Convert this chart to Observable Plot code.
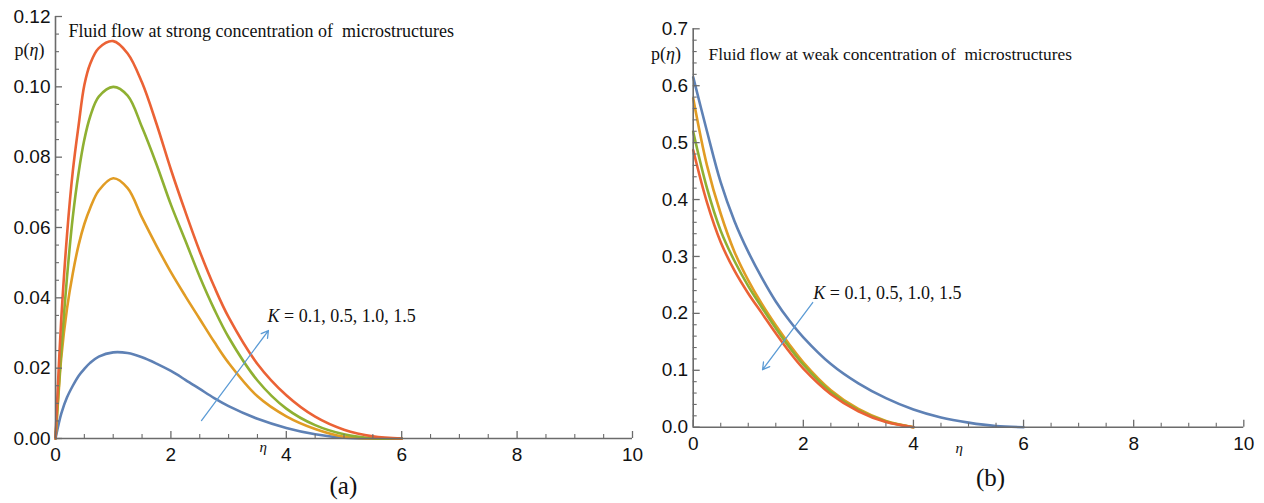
<!DOCTYPE html>
<html><head><meta charset="utf-8">
<script src="https://cdn.jsdelivr.net/npm/d3@7"></script>
<script src="https://cdn.jsdelivr.net/npm/@observablehq/plot@0.6"></script>
<style>
body{margin:0;background:#fff;}
#wrap{position:relative;width:1264px;height:503px;overflow:hidden;background:#fff;}
#wrap svg{position:absolute;top:0;}
</style></head><body><div id="wrap"></div>
<script>
// ---- data ----
const kValues = ["0.1", "0.5", "1.0", "1.5"];
const seriesColors = ["#5E81B5", "#E19C24", "#8FB032", "#EB6235"];

// panel (a): strong concentration
const etaA = [0, 0.05, 0.1, 0.2, 0.3, 0.4, 0.5, 0.6, 0.75, 1.0, 1.25, 1.5, 1.75, 2.0, 2.25, 2.5, 2.75, 3.0, 3.5, 4.0, 4.5, 5.0, 5.5, 6.0];
const blueA   = [0, 0.0038, 0.0071, 0.0117, 0.0150, 0.0178, 0.0198, 0.0215, 0.0233, 0.0245, 0.0243, 0.0231, 0.0213, 0.0192, 0.0167, 0.0141, 0.0115, 0.0092, 0.0056, 0.0030, 0.0012, 0.0002, 0, 0];
const orangeA = [0, 0.012, 0.023, 0.037, 0.047, 0.055, 0.061, 0.0655, 0.0705, 0.074, 0.0712, 0.0628, 0.0548, 0.0473, 0.0405, 0.034, 0.0275, 0.0215, 0.012, 0.0063, 0.0027, 0.0005, 0, 0];
const greenA  = [0, 0.013, 0.025, 0.046, 0.063, 0.0755, 0.085, 0.0915, 0.0972, 0.100, 0.0975, 0.0885, 0.078, 0.0665, 0.0563, 0.046, 0.0368, 0.0288, 0.0165, 0.0085, 0.0038, 0.0012, 0.0001, 0];
const redA    = [0, 0.018, 0.034, 0.058, 0.076, 0.089, 0.1005, 0.1065, 0.111, 0.113, 0.1095, 0.1012, 0.0895, 0.0765, 0.0645, 0.0532, 0.0432, 0.0345, 0.0212, 0.0123, 0.0062, 0.0025, 0.0006, 0];

// panel (b): weak concentration
const etaB = [0, 0.25, 0.5, 0.75, 1.0, 1.25, 1.5, 1.75, 2.0, 2.5, 3.0, 3.5, 4.0, 4.5, 5.0, 5.5, 6.0];
const blueB   = [0.615, 0.52, 0.43, 0.362, 0.308, 0.262, 0.221, 0.187, 0.158, 0.111, 0.077, 0.051, 0.031, 0.017, 0.008, 0.002, 0];
const orangeB = [0.578, 0.46, 0.375, 0.308, 0.258, 0.216, 0.179, 0.145, 0.114, 0.065, 0.032, 0.011, 0];
const greenB  = [0.519, 0.42, 0.345, 0.292, 0.248, 0.21, 0.174, 0.14, 0.11, 0.062, 0.03, 0.010, 0];
const redB    = [0.487, 0.395, 0.325, 0.275, 0.235, 0.2, 0.165, 0.132, 0.103, 0.058, 0.028, 0.009, 0];

// ticks
const xTickLabels = [0, 2, 4, 6, 8, 10];
const yTickLabelsA = [0, 0.02, 0.04, 0.06, 0.08, 0.10, 0.12];
const yTickLabelsB = [0, 0.1, 0.2, 0.3, 0.4, 0.5, 0.6, 0.7];

// text
const titleA = "Fluid flow at strong concentration of\u00a0 microstructures";
const titleB = "Fluid flow at weak concentration of\u00a0 microstructures";
const kLabel = "K = 0.1, 0.5, 1.0, 1.5";
const yLabel = "p(η)";
const xLabel = "η";

// ---- build ----
const seriesA = [blueA, orangeA, greenA, redA];
const seriesB = [blueB, orangeB, greenB, redB];
const rowsA = kValues.flatMap((k, i) => seriesA[i].map((p, j) => ({k, eta: etaA[j], p})));
const rowsB = kValues.flatMap((k, i) => seriesB[i].map((p, j) => ({k, eta: etaB[j], p})));

const axisColor = "#6b6b6b";
const arrowColor = "#5B9BD5";
const sans = "'Liberation Sans', Arial, sans-serif";
const serif = "'Liberation Serif', 'Times New Roman', serif";

const xMinor = d3.range(0, 10.001, 0.5).filter(v => Math.abs(v / 2 - Math.round(v / 2)) > 1e-6);
const yMinorA = d3.range(0, 0.1201, 0.005).filter(v => Math.abs(v / 0.02 - Math.round(v / 0.02)) > 1e-6);
const yMinorB = d3.range(0, 0.7001, 0.02).filter(v => Math.abs(v / 0.1 - Math.round(v / 0.1)) > 1e-6);

function axesMarks(yMax, yMajor, yMinor, yFmt) {
  return [
    Plot.ruleY([0], {x1: 0, x2: 10, stroke: axisColor, strokeWidth: 1.6}),
    Plot.ruleX([0], {y1: 0, y2: yMax, stroke: axisColor, strokeWidth: 1.6}),
    Plot.ruleX(xTickLabels, {x: d => d, y1: 0, y2: 0, insetBottom: 7, stroke: axisColor, strokeWidth: 1.3}),
    Plot.ruleX(xMinor, {x: d => d, y1: 0, y2: 0, insetBottom: 4, stroke: axisColor, strokeWidth: 1.1}),
    Plot.ruleY(yMajor, {y: d => d, x1: 0, x2: 0, insetLeft: 7, stroke: axisColor, strokeWidth: 1.3}),
    Plot.ruleY(yMinor, {y: d => d, x1: 0, x2: 0, insetLeft: 4, stroke: axisColor, strokeWidth: 1.1}),
    Plot.axisX({ticks: xTickLabels, tickSize: 0, tickPadding: 9, tickFormat: d => String(d), label: null, fontSize: 19, fill: "#111"}),
    Plot.axisY({ticks: yMajor, tickSize: 0, tickPadding: 5, tickFormat: yFmt, label: null, fontSize: 19, fill: "#111"})
  ];
}

const common = {
  height: 503,
  x: {domain: [0, 10], axis: null},
  color: {domain: kValues, range: seriesColors},
  style: {background: "transparent", overflow: "visible", fontFamily: sans, fontSize: "19px", color: "#111"}
};

const plotA = Plot.plot({
  ...common,
  width: 650, marginLeft: 55, marginRight: 18, marginTop: 16, marginBottom: 65,
  y: {domain: [0, 0.12], axis: null},
  marks: [
    Plot.line(rowsA, {x: "eta", y: "p", z: "k", stroke: "k", strokeWidth: 2.6, curve: "catmull-rom"}),
    ...axesMarks(0.12, yTickLabelsA, yMinorA, d3.format(".2f")),
    Plot.arrow([{}], {x1: 2.53, y1: 0.0051, x2: 3.69, y2: 0.0307, stroke: arrowColor, strokeWidth: 1.3, headLength: 9}),
    Plot.text([titleA], {x: 0.225, y: 0.1141, text: d => d, textAnchor: "start", lineAnchor: "bottom", fontFamily: serif, fontSize: 18, fill: "#111"}),
    Plot.text([yLabel], {x: -0.45, y: 0.1089, text: d => d, textAnchor: "middle", lineAnchor: "bottom", fontFamily: serif, fontSize: 18, fill: "#111"}),
    Plot.text([xLabel], {x: 3.6, y: -0.0026, text: d => d, textAnchor: "middle", fontFamily: serif, fontStyle: "italic", fontSize: 15, fill: "#111"}),
    Plot.text([kLabel], {x: 3.674, y: 0.0347, text: d => d, textAnchor: "start", fontFamily: serif, fontSize: 18, fill: "#111"}),
    Plot.text(["(a)"], {x: 4.99, y: -0.0134, text: d => d, textAnchor: "middle", fontFamily: serif, fontSize: 25, fill: "#111"})
  ]
});

const plotB = Plot.plot({
  ...common,
  width: 624, marginLeft: 52.7, marginRight: 20.7, marginTop: 28.3, marginBottom: 76.3,
  y: {domain: [0, 0.7], axis: null},
  marks: [
    Plot.line(rowsB, {x: "eta", y: "p", z: "k", stroke: "k", strokeWidth: 2.6, curve: "catmull-rom"}),
    ...axesMarks(0.7, yTickLabelsB, yMinorB, d3.format(".1f")),
    Plot.arrow([{}], {x1: 2.17, y1: 0.219, x2: 1.26, y2: 0.101, stroke: arrowColor, strokeWidth: 1.3, headLength: 9}),
    Plot.text([titleB], {x: 0.28, y: 0.645, text: d => d, textAnchor: "start", lineAnchor: "bottom", fontFamily: serif, fontSize: 17.3, fill: "#111"}),
    Plot.text([yLabel], {x: -0.494, y: 0.645, text: d => d, textAnchor: "middle", lineAnchor: "bottom", fontFamily: serif, fontSize: 18, fill: "#111"}),
    Plot.text([xLabel], {x: 4.83, y: -0.0375, text: d => d, textAnchor: "middle", fontFamily: serif, fontStyle: "italic", fontSize: 15, fill: "#111"}),
    Plot.text([kLabel], {x: 2.18, y: 0.235, text: d => d, textAnchor: "start", fontFamily: serif, fontSize: 18, fill: "#111"}),
    Plot.text(["(b)"], {x: 5.4, y: -0.0885, text: d => d, textAnchor: "middle", fontFamily: serif, fontSize: 25, fill: "#111"})
  ]
});

// italicize math symbols inside texts
for (const svg of [plotA, plotB]) {
  svg.querySelectorAll("text").forEach(t => {
    if (t.children.length) return;
    const s = t.textContent;
    if (s === yLabel) {
      t.innerHTML = 'p(<tspan font-style="italic">η</tspan>)';
    } else if (s === kLabel) {
      t.innerHTML = '<tspan font-style="italic">K</tspan> = 0.1, 0.5, 1.0, 1.5';
    }
  });
}

const wrap = document.getElementById("wrap");
plotA.style.left = "0px";
plotB.style.left = "640px";
wrap.appendChild(plotA);
wrap.appendChild(plotB);
</script>
</body></html>
